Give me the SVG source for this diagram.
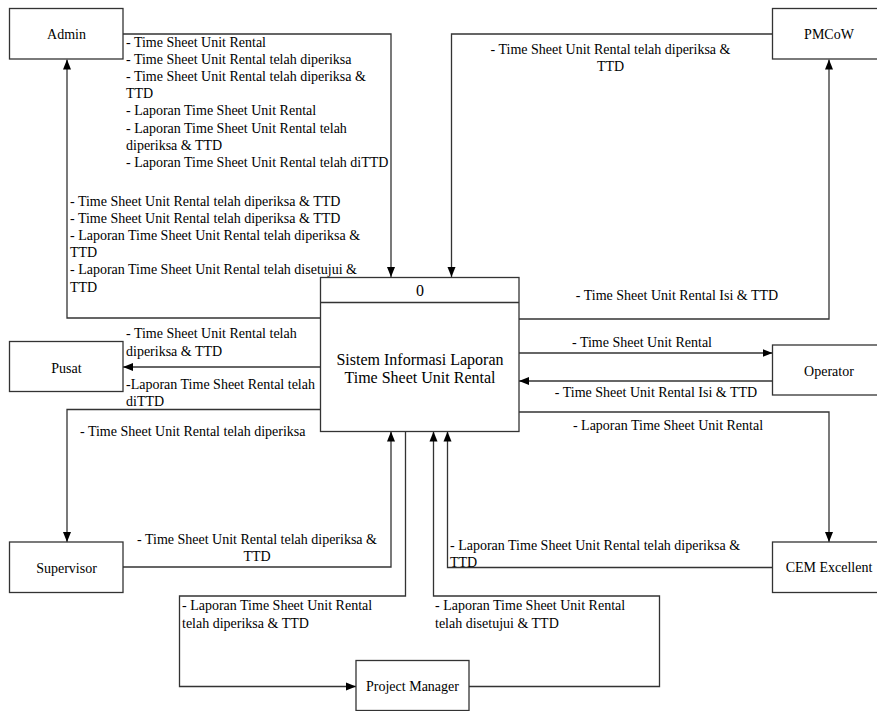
<svg xmlns="http://www.w3.org/2000/svg" width="877" height="711" viewBox="0 0 877 711">
<style>
.box{fill:#fff;stroke:#333;stroke-width:1.3}
.ln{fill:none;stroke:#333;stroke-width:1.3}
text{font-family:"Liberation Serif","Times New Roman",serif;font-size:14px;fill:#000}
.c{text-anchor:middle}
.t{font-size:16px}
</style>
<defs>
<marker id="ah" markerUnits="userSpaceOnUse" markerWidth="10" markerHeight="10" viewBox="0 0 10 10" refX="10" refY="5" orient="auto">
<path d="M0,1 L10,5 L0,9 Z" fill="#000"/>
</marker>
</defs>
<rect width="877" height="711" fill="#fff"/>
<g id="connectors">
<path class="ln" d="M123,34 H391 V277" marker-end="url(#ah)"/>
<path class="ln" d="M320.5,318 H67 V59.5" marker-end="url(#ah)"/>
<path class="ln" d="M772.5,34 H451.5 V277" marker-end="url(#ah)"/>
<path class="ln" d="M519,319 H829 V59.5" marker-end="url(#ah)"/>
<path class="ln" d="M519,353 H772.5" marker-end="url(#ah)"/>
<path class="ln" d="M772.5,381 H519" marker-end="url(#ah)"/>
<path class="ln" d="M519,412 H829 V542" marker-end="url(#ah)"/>
<path class="ln" d="M320.5,367 H123" marker-end="url(#ah)"/>
<path class="ln" d="M320.5,409.5 H67 V542" marker-end="url(#ah)"/>
<path class="ln" d="M123,567 H391 V431.5" marker-end="url(#ah)"/>
<path class="ln" d="M405.5,431.5 V596 H179.5 V686.5 H356" marker-end="url(#ah)"/>
<path class="ln" d="M469,686.5 H659.5 V596 H433.5 V431.5" marker-end="url(#ah)"/>
<path class="ln" d="M772.5,567.5 H447.5 V431.5" marker-end="url(#ah)"/>
<g id="labels">
<text x="126" y="46.5">- Time Sheet Unit Rental</text>
<text x="126" y="63.7">- Time Sheet Unit Rental telah diperiksa</text>
<text x="126" y="80.9">- Time Sheet Unit Rental telah diperiksa &amp;</text>
<text x="126" y="98.1">TTD</text>
<text x="126" y="115.3">- Laporan Time Sheet Unit Rental</text>
<text x="126" y="132.5">- Laporan Time Sheet Unit Rental telah</text>
<text x="126" y="149.7">diperiksa &amp; TTD</text>
<text x="126" y="166.9">- Laporan Time Sheet Unit Rental telah diTTD</text>
<text x="70" y="205.5">- Time Sheet Unit Rental telah diperiksa &amp; TTD</text>
<text x="70" y="222.7">- Time Sheet Unit Rental telah diperiksa &amp; TTD</text>
<text x="70" y="239.9">- Laporan Time Sheet Unit Rental telah diperiksa &amp;</text>
<text x="70" y="257.1">TTD</text>
<text x="70" y="274.3">- Laporan Time Sheet Unit Rental telah disetujui &amp;</text>
<text x="70" y="291.5">TTD</text>
<text class="c" x="610.5" y="54">- Time Sheet Unit Rental telah diperiksa &amp;</text>
<text class="c" x="610.5" y="71">TTD</text>
<text class="c" x="677" y="300">- Time Sheet Unit Rental Isi &amp; TTD</text>
<text class="c" x="642" y="346.5">- Time Sheet Unit Rental</text>
<text class="c" x="656" y="397">- Time Sheet Unit Rental Isi &amp; TTD</text>
<text class="c" x="668" y="430">- Laporan Time Sheet Unit Rental</text>
<text x="126" y="338">- Time Sheet Unit Rental telah</text>
<text x="126" y="355.5">diperiksa &amp; TTD</text>
<text x="126" y="389">-Laporan Time Sheet Rental telah</text>
<text x="126" y="405.5">diTTD</text>
<text x="80" y="435.5">- Time Sheet Unit Rental telah diperiksa</text>
<text class="c" x="257" y="544">- Time Sheet Unit Rental telah diperiksa &amp;</text>
<text class="c" x="257" y="560.5">TTD</text>
<text x="182" y="610">- Laporan Time Sheet Unit Rental</text>
<text x="182" y="627.5">telah diperiksa &amp; TTD</text>
<text x="435" y="610">- Laporan Time Sheet Unit Rental</text>
<text x="435" y="627.5">telah disetujui &amp; TTD</text>
<text x="450" y="550">- Laporan Time Sheet Unit Rental telah diperiksa &amp;</text>
<text x="450" y="566.5">TTD</text>
</g>
</g>
<g id="process0">
<rect class="box" x="320.5" y="277.5" width="198.5" height="154"/>
<line class="ln" x1="320.5" y1="302.5" x2="519" y2="302.5"/>
<text class="c t" x="420" y="295.5">0</text>
<text class="c t" x="420" y="364.5">Sistem Informasi Laporan</text>
<text class="c t" x="420" y="382.5">Time Sheet Unit Rental</text>
</g>
<g id="admin">
<rect class="box" x="9.5" y="8.5" width="113.5" height="50.5"/>
<text class="c" x="66.5" y="38.5">Admin</text>
</g>
<g id="pmcow">
<rect class="box" x="772.5" y="8.5" width="113.5" height="50.5"/>
<text class="c" x="829" y="38.5">PMCoW</text>
</g>
<g id="pusat">
<rect class="box" x="9.5" y="341.5" width="113.5" height="50"/>
<text class="c" x="66.5" y="373">Pusat</text>
</g>
<g id="operator">
<rect class="box" x="772.5" y="345" width="113.5" height="50"/>
<text class="c" x="829" y="376">Operator</text>
</g>
<g id="supervisor">
<rect class="box" x="9.5" y="542" width="113.5" height="50.5"/>
<text class="c" x="66.5" y="572.5">Supervisor</text>
</g>
<g id="cem">
<rect class="box" x="772.5" y="542" width="113.5" height="50.5"/>
<text class="c" x="829" y="572">CEM Excellent</text>
</g>
<g id="pm">
<rect class="box" x="356" y="660.5" width="113" height="50"/>
<text class="c" x="412.5" y="691">Project Manager</text>
</g>
</svg>
